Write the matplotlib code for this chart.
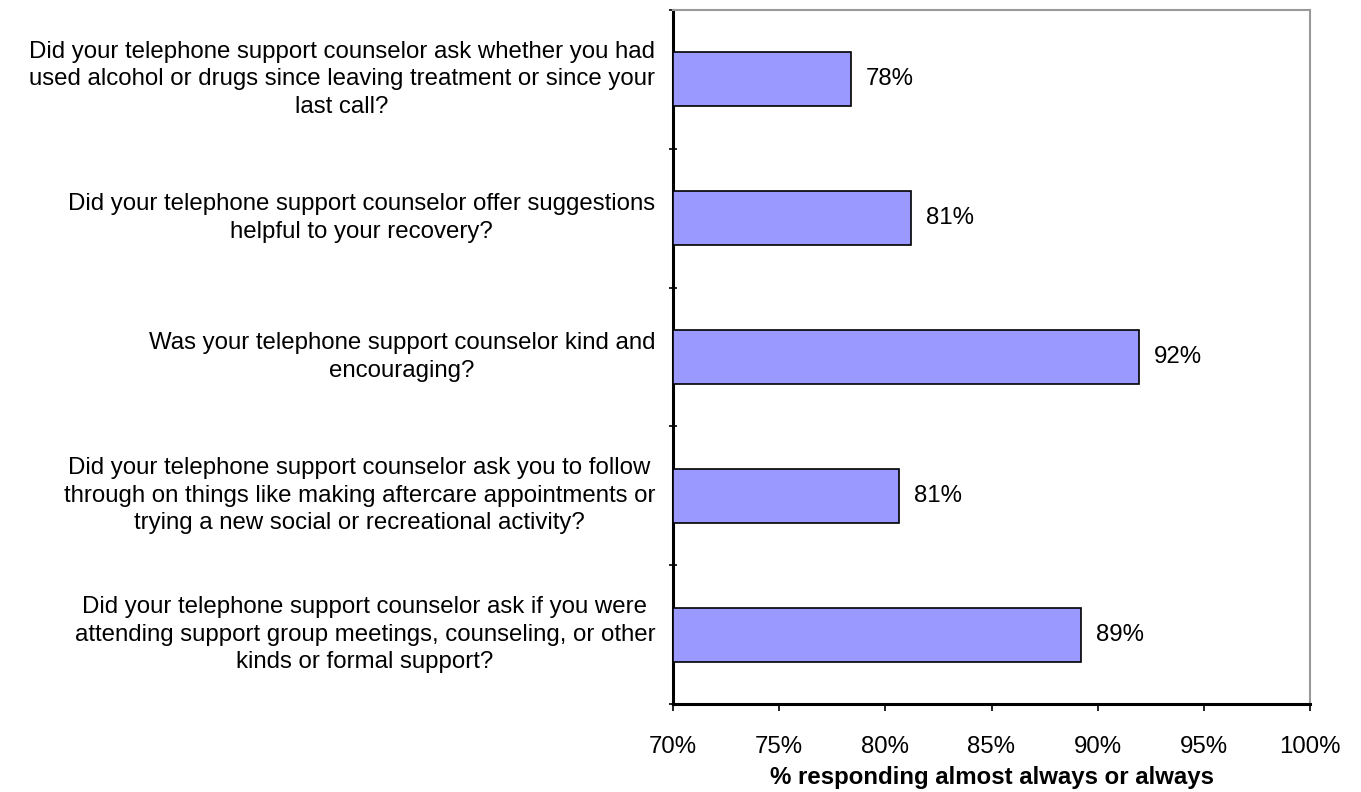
import matplotlib
matplotlib.use("Agg")
import matplotlib.pyplot as plt
from matplotlib.ticker import FuncFormatter

plt.rcParams['font.family'] = ['Liberation Sans', 'DejaVu Sans']

questions = [
    "Did your telephone support counselor ask whether you had\nused alcohol or drugs since leaving treatment or since your\nlast call?",
    "Did your telephone support counselor offer suggestions\nhelpful to your recovery?",
    "Was your telephone support counselor kind and\nencouraging?",
    "Did your telephone support counselor ask you to follow\nthrough on things like making aftercare appointments or\ntrying a new social or recreational activity?",
    "Did your telephone support counselor ask if you were\nattending support group meetings, counseling, or other\nkinds or formal support?",
]
values = [78.4, 81.2, 91.95, 80.65, 89.2]
value_labels = ["78%", "81%", "92%", "81%", "89%"]
xticks = [70, 75, 80, 85, 90, 95, 100]

FS = 17.3

fig = plt.figure(figsize=(13.61, 7.92), dpi=100)
ax = fig.add_axes([673/1361, 1-704/792, (1310-673)/1361, (704-10)/792])

ypos = list(range(len(questions)))
ax.barh(ypos, [v - 70 for v in values], left=70, height=0.39,
        color='#9999ff', edgecolor='black', linewidth=1.2, zorder=3)
for y, v, lab in zip(ypos, values, value_labels):
    ax.text(v + 0.7, y, lab, va='center', ha='left', fontsize=FS, color='black')

ax.set_xlim(70, 100)
ax.set_ylim(len(questions) - 0.5, -0.5)
ax.set_xticks(xticks)
ax.xaxis.set_major_formatter(FuncFormatter(lambda x, p: f"{x:.0f}%"))
ax.tick_params(axis='x', labelsize=FS, length=5, width=1.2, pad=18, direction='out')

# y: category boundaries as ticks, labels at centres
ax.set_yticks([i - 0.5 for i in range(len(questions) + 1)])
ax.set_yticklabels([])
ax.tick_params(axis='y', length=6, width=1.2, direction='inout')
for y, q in zip(ypos, questions):
    ax.text(-0.028, y, q, transform=ax.get_yaxis_transform(), ha='right', va='center',
            multialignment='center', fontsize=FS, linespacing=1.32)

ax.set_xlabel("% responding almost always or always", fontsize=FS, fontweight='bold', labelpad=6)

ax.spines['left'].set_linewidth(2.2)
ax.spines['bottom'].set_linewidth(2.2)
ax.spines['top'].set_color('#999999')
ax.spines['right'].set_color('#999999')
ax.spines['top'].set_linewidth(1.5)
ax.spines['right'].set_linewidth(1.5)

fig.savefig("out.png", dpi=100)
